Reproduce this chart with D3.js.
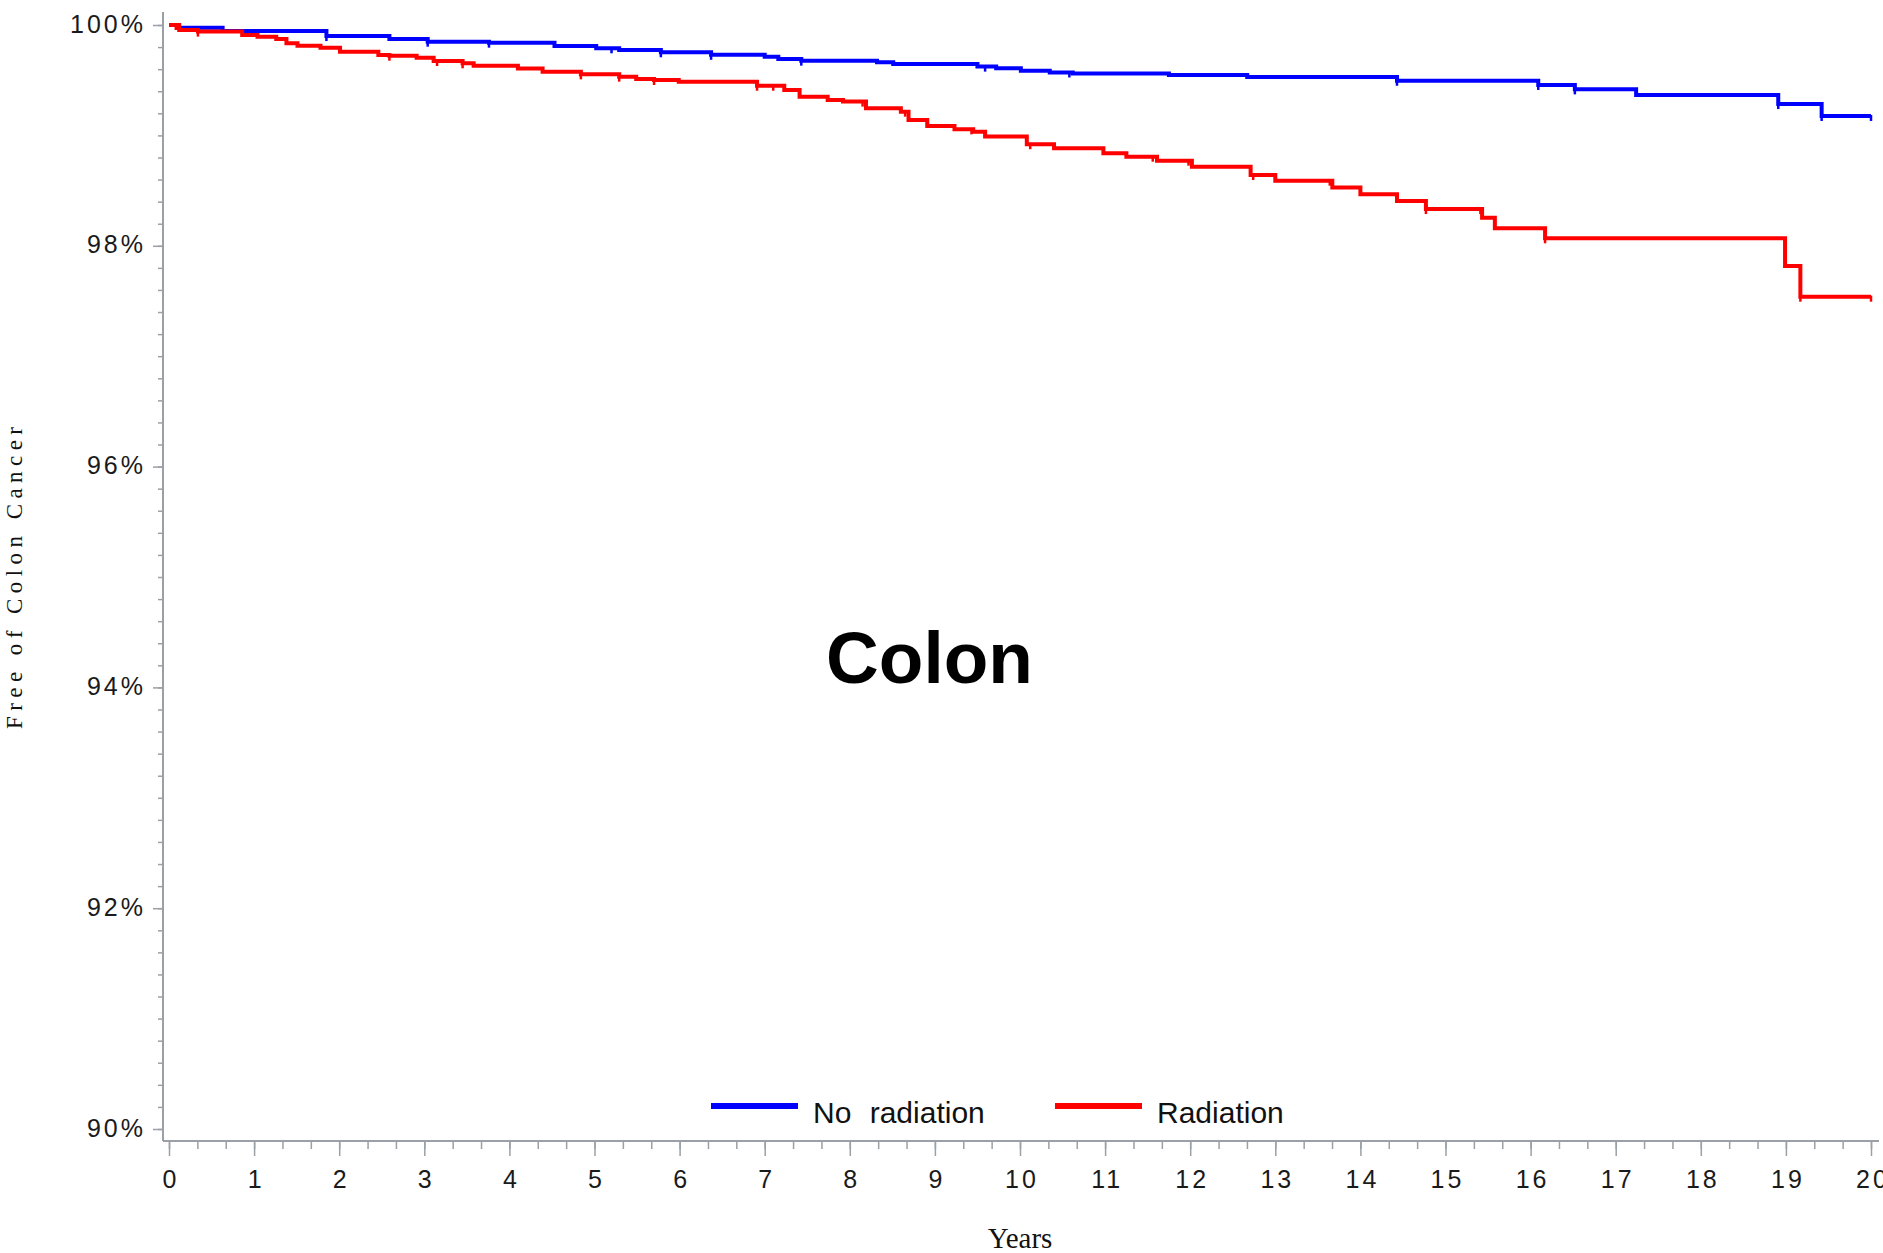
<!DOCTYPE html>
<html lang="en">
  <head>
    <meta charset="utf-8">
    <title>Colon</title>
    <script src="https://d3js.org/d3.v7.min.js"></script>
    <style>
      body { margin: 0; background: #fff; }
      .tick text { font-family: "Liberation Sans", Arial, sans-serif; font-size: 25px; fill: #1a1a1a; letter-spacing: 3px; }
      .tick line { stroke: #9aa0a6; stroke-width: 1.5; }
    </style>
  </head>
  <body>
    <div id="chart"></div>

    <script>
      // step times (years) and % free of colon cancer
      const noRadYears = [0, 0.10, 0.63, 1.85, 2.59, 3.04, 3.76, 4.53, 5.02, 5.29, 5.78, 6.37, 7.00, 7.16, 7.43, 8.32, 8.51,
        9.50, 9.72, 10.01, 10.35, 10.62, 11.75, 12.67, 14.43, 16.09, 16.52, 17.24, 18.91, 19.42, 20];
      const noRadFree = [100, 99.976, 99.946, 99.900, 99.873, 99.849, 99.840, 99.810, 99.789, 99.774, 99.753, 99.730, 99.713, 99.692, 99.677, 99.662, 99.647,
        99.623, 99.608, 99.586, 99.570, 99.560, 99.547, 99.530, 99.495, 99.457, 99.417, 99.366, 99.284, 99.176, 99.176];

      const radYears = [0, 0.12, 0.34, 0.86, 1.04, 1.26, 1.38, 1.51, 1.78, 2.01, 2.46, 2.59, 2.91, 3.11, 3.45, 3.58, 4.10, 4.39, 4.84,
        5.29, 5.49, 5.70, 5.99, 6.91, 7.23, 7.41, 7.74, 7.92, 8.19, 8.60, 8.69, 8.91, 9.23, 9.45, 9.59, 10.08, 10.40, 10.98,
        11.25, 11.61, 12.02, 12.71, 13.00, 13.67, 14.00, 14.43, 14.77, 15.43, 15.58, 16.17, 18.99, 19.17, 20];
      const radFree = [100, 99.955, 99.940, 99.909, 99.894, 99.873, 99.834, 99.813, 99.795, 99.758, 99.728, 99.722, 99.704, 99.674, 99.653, 99.631, 99.607, 99.577, 99.553,
        99.532, 99.511, 99.502, 99.487, 99.450, 99.411, 99.351, 99.321, 99.306, 99.245, 99.215, 99.140, 99.085, 99.055, 99.034, 98.990, 98.920, 98.883, 98.838,
        98.807, 98.771, 98.717, 98.641, 98.590, 98.527, 98.466, 98.406, 98.333, 98.255, 98.158, 98.068, 97.817, 97.539, 97.539];

      // censored observations (small tick marks on the curves)
      const noRadCensored = [1.85, 3.04, 3.76, 5.2, 5.78, 6.37, 7.43, 9.59, 10.58, 14.43, 16.09, 16.52, 18.91, 19.42, 20];
      const radCensored = [0.08, 0.34, 2.0, 2.59, 3.15, 3.45, 4.84, 5.29, 5.70, 6.91, 7.1, 8.15, 8.65, 9.43, 10.12,
        11.56, 11.98, 12.74, 13.64, 14.77, 15.41, 16.17, 19.17, 20];

      const groups = ["No radiation", "Radiation"];
      const colors = ["#0000ff", "#ff0000"];

      const xTicks = d3.range(0, 21, 1);
      const xMinorTicks = d3.range(0, 60.5, 1).map(d => d / 3);
      const yTicks = [90, 92, 94, 96, 98, 100];
      const yMinorTicks = d3.range(0, 50.5, 1).map(d => 90 + d / 5);

      const series = [
        {name: groups[0], color: colors[0], years: noRadYears, free: noRadFree, censored: noRadCensored},
        {name: groups[1], color: colors[1], years: radYears, free: radFree, censored: radCensored}
      ];

      let margin = {top: 25, right: 12, bottom: 124, left: 169},
        width = 1883 - margin.left - margin.right,
        height = 1253 - margin.top - margin.bottom;

      let svg = d3.select("#chart")
        .append("svg")
          .attr("width", 1883)
          .attr("height", 1253)
        .append("g")
          .attr("transform", "translate(" + margin.left + "," + margin.top + ")");

      let x = d3.scaleLinear().domain([0, 20]).range([0, width]);
      let y = d3.scaleLinear().domain([90, 100]).range([height, 0]);

      const axisColor = "#9aa0a6";

      // axis lines sit a little outside the data range
      svg.append("line")
        .attr("x1", -6).attr("x2", -6)
        .attr("y1", -13).attr("y2", height + 12)
        .attr("stroke", axisColor).attr("stroke-width", 2);
      svg.append("line")
        .attr("x1", -6).attr("x2", width + 8)
        .attr("y1", height + 12).attr("y2", height + 12)
        .attr("stroke", axisColor).attr("stroke-width", 2);

      // Y axis
      svg.append("g")
        .attr("transform", "translate(-6,0)")
        .call(d3.axisLeft(y).tickValues(yMinorTicks).tickSize(5).tickFormat(""))
        .call(g => g.select(".domain").remove());
      svg.append("g")
        .attr("transform", "translate(-6,0)")
        .call(d3.axisLeft(y).tickValues(yTicks).tickSize(10).tickPadding(7).tickFormat(d => d + "%"))
        .call(g => g.select(".domain").remove())
        .selectAll("text").attr("dy", "0.28em");

      // X axis
      svg.append("g")
        .attr("transform", "translate(0," + (height + 12) + ")")
        .call(d3.axisBottom(x).tickValues(xMinorTicks).tickSize(8).tickFormat(""))
        .call(g => g.select(".domain").remove());
      svg.append("g")
        .attr("transform", "translate(0," + (height + 12) + ")")
        .call(d3.axisBottom(x).tickValues(xTicks).tickSize(15).tickPadding(14))
        .call(g => g.select(".domain").remove())
        .selectAll("text").attr("dx", "1.5");

      // survival curves
      let line = d3.line()
        .x(d => x(d[0]))
        .y(d => y(d[1]))
        .curve(d3.curveStepAfter);

      function freeAt(s, t) {
        let i = d3.bisectRight(s.years, t) - 1;
        return s.free[Math.max(i, 0)];
      }

      series.forEach(function(s) {
        svg.append("path")
          .datum(s.years.map((t, i) => [t, s.free[i]]))
          .attr("fill", "none")
          .attr("stroke", s.color)
          .attr("stroke-width", 4)
          .attr("d", line);

        svg.append("g")
          .selectAll("line")
          .data(s.censored)
          .join("line")
            .attr("x1", d => x(d)).attr("x2", d => x(d))
            .attr("y1", d => y(freeAt(s, d)) - 1)
            .attr("y2", d => y(freeAt(s, d)) + 5)
            .attr("stroke", s.color)
            .attr("stroke-width", 2.5);
      });

      // axis titles
      svg.append("text")
        .attr("transform", "translate(" + (22 - margin.left) + "," + (578 - margin.top) + ") rotate(-90)")
        .attr("text-anchor", "middle")
        .attr("textLength", 302)
        .attr("lengthAdjust", "spacing")
        .style("font-family", "'Liberation Serif', 'Times New Roman', serif")
        .style("font-size", "23px")
        .style("fill", "#111")
        .text("Free of Colon Cancer");

      svg.append("text")
        .attr("x", width / 2)
        .attr("y", 1248 - margin.top)
        .attr("text-anchor", "middle")
        .style("font-family", "'Liberation Serif', 'Times New Roman', serif")
        .style("font-size", "29px")
        .style("fill", "#111")
        .text("Years");

      // big label in the middle
      svg.append("text")
        .attr("x", 929.5 - margin.left)
        .attr("y", 683 - margin.top)
        .attr("text-anchor", "middle")
        .style("font-family", "'Liberation Sans', Arial, sans-serif")
        .style("font-weight", "bold")
        .style("font-size", "73px")
        .style("fill", "#000")
        .text("Colon");

      // legend
      let legendX = [711, 1055];
      let legend = svg.append("g")
        .attr("transform", "translate(" + (-margin.left) + "," + (-margin.top) + ")");
      series.forEach(function(s, i) {
        legend.append("line")
          .attr("x1", legendX[i]).attr("x2", legendX[i] + 87)
          .attr("y1", 1106).attr("y2", 1106)
          .attr("stroke", s.color)
          .attr("stroke-width", 6);
        legend.append("text")
          .attr("x", legendX[i] + 102)
          .attr("y", 1123)
          .style("font-family", "'Liberation Sans', Arial, sans-serif")
          .style("font-size", "30px")
          .style("word-spacing", "10px")
          .style("fill", "#111")
          .text(s.name);
      });
    </script>
  </body>
</html>
